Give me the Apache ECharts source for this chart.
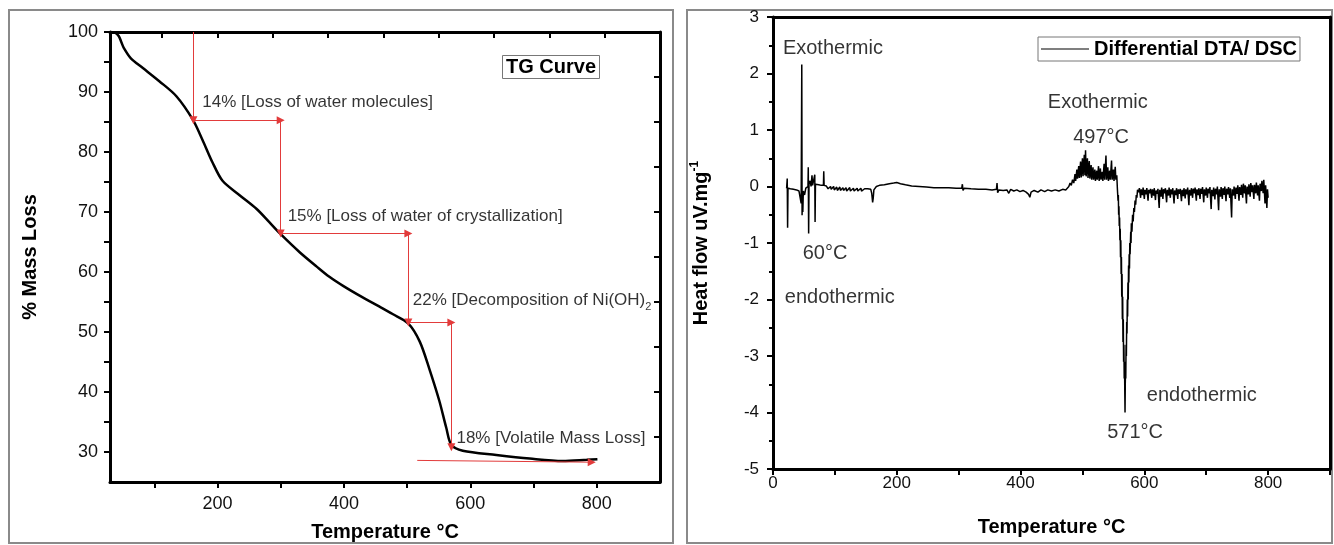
<!DOCTYPE html>
<html>
<head>
<meta charset="utf-8">
<script src="https://cdn.jsdelivr.net/npm/echarts@6.0.0/dist/echarts.min.js"></script>
<style>
html, body { margin: 0; padding: 0; background: #fff; }
#chart { width: 1334px; height: 545px; }
</style>
</head>
<body>
<div id="chart"></div>
<script>
// ---- TG curve (left) ----
var tgTemp = [30, 38, 44, 48, 52, 63, 82, 108, 135, 161, 176, 192, 208, 235, 262, 282, 300, 330, 357, 377, 400, 429, 455, 477, 502, 520, 535, 551, 562, 570, 588, 641, 694, 746, 784, 801];
var tgMass = [100, 99.9, 99.3, 98.3, 97.3, 95.6, 94, 91.8, 89.3, 85.4, 82.1, 78.3, 75.2, 72.8, 70.5, 68.3, 66.3, 63.3, 60.9, 59.2, 57.6, 55.8, 54.3, 53.0, 51.4, 48.4, 43.9, 38.5, 34, 31.2, 30.2, 29.5, 28.9, 28.5, 28.7, 28.8];

var tgLabelX = [200, 400, 600, 800];
var tgTickX = [100, 200, 300, 400, 500, 600, 700, 800];
var tgTopTickX = [112.5, 200, 287.5, 375, 462.5, 550, 637.5, 725, 812.5];
var tgLabelY = [30, 40, 50, 60, 70, 80, 90, 100];
var tgTickY = [30, 35, 40, 45, 50, 55, 60, 65, 70, 75, 80, 85, 90, 95, 100];
var tgRightTickY = [32.5, 40, 47.5, 55, 62.5, 70, 77.5, 85, 92.5];

// red arrows: [from, to] in data units, head at "to"
var tgArrows = [
    [[162, 100], [162, 85.3]],
    [[162, 85.3], [300, 85.3]],
    [[300, 85.3], [300, 66.4]],
    [[300, 66.4], [502, 66.4]],
    [[502, 66.4], [502, 51.6]],
    [[502, 51.6], [570, 51.6]],
    [[570, 51.6], [570, 30.8]],
    [[516, 28.6], [792, 28.3]]
];
var tgNotes = [
    ['14% [Loss of water molecules]', 176, 88.2],
    ['15% [Loss of water of crystallization]', 311, 69.2],
    ['22% [Decomposition of Ni(OH){sub|2}', 509, 55.2],
    ['18% [Volatile Mass Loss]', 578, 32.3]
];

// ---- DTA / DSC (right) ----
var dtaPoints = [
    [22, -0.03], [23, 0.14], [23.6, -0.73], [24.2, -0.03], [28, -0.04], [33, -0.05], [38, -0.06], [42, -0.08],
    [44, -0.1], [45.5, -0.3], [46.5, 2.16], [47, -0.51], [47.6, -0.12], [48.2, -0.45], [49, -0.08], [51, -0.15],
    [53, -0.03], [55, -0.06], [56.5, 0.0], [57, 0.34], [57.6, -0.83], [58.2, 0.05], [60, 0.1], [61.5, 0.0],
    [63, 0.2], [64, 0.02], [66, 0.05], [67.5, 0.21], [68, -0.63], [68.6, 0.04], [71, 0.06], [74, 0.03],
    [78, 0.02], [81.5, 0.02], [82, 0.27], [82.6, 0.02], [86, 0.01], [88, 0.01], [89, -0.04], [93, 0.0],
    [94, -0.05], [98, 0.0], [99, -0.06], [103, -0.01], [104, -0.07], [108, -0.01], [109, -0.07], [113, -0.02],
    [114, -0.07], [118, -0.02], [119, -0.08], [124, -0.02], [125, -0.08], [130, -0.03], [131, -0.08], [136, -0.03],
    [137, -0.08], [142, -0.03], [143, -0.08], [148, -0.04], [153, -0.04], [158, -0.05], [159.5, -0.12], [161, -0.28],
    [162, -0.2], [163, -0.06], [167, 0.0], [172, 0.02], [180, 0.03], [188, 0.05], [195, 0.06], [200, 0.07],
    [206, 0.05], [214, 0.03], [224, 0.01], [236, 0.0], [248, -0.01], [260, -0.02], [272, -0.02], [284, -0.02],
    [296, -0.03], [305, -0.03], [306, 0.04], [307, -0.07], [309, -0.03], [320, -0.04], [332, -0.05], [344, -0.05],
    [354, -0.06], [361, -0.05], [362, 0.06], [363, -0.11], [365, -0.06], [372, -0.07], [378, -0.06], [381, -0.12],
    [384, -0.05], [389, -0.08], [394, -0.06], [399, -0.09], [404, -0.07], [409, -0.1], [413, -0.14], [415, -0.19],
    [417, -0.1], [422, -0.07], [428, -0.1], [433, -0.06], [439, -0.09], [444, -0.06], [450, -0.08], [456, -0.06],
    [462, -0.08], [468, -0.05], [473, -0.06], [476, -0.03],
    // exothermic hump
    [478, 0.0], [480, 0.06], [482, 0.02], [484, 0.12], [486, 0.06], [488, 0.22], [489, 0.1], [491, 0.3],
    [492, 0.14], [494, 0.36], [495, 0.15], [497, 0.44], [498, 0.16], [500, 0.5], [501, 0.18], [503, 0.56],
    [504, 0.2], [505, 0.64], [506, 0.18], [508, 0.5], [509, 0.15], [511, 0.45], [512, 0.14], [514, 0.38],
    [515, 0.12], [517, 0.34], [518, 0.12], [520, 0.3], [521, 0.1], [523, 0.28], [524, 0.12], [526, 0.36],
    [527, 0.1], [529, 0.32], [530, 0.12], [532, 0.26], [533, 0.1], [535, 0.4], [536, 0.12], [538, 0.55],
    [539, 0.12], [541, 0.34], [542, 0.1], [544, 0.28], [545, 0.12], [547, 0.46], [548, 0.12], [550, 0.3],
    [551, 0.1], [553, 0.35], [554, 0.12], [555.5, 0.2],
    // endothermic trough (noisy both flanks)
    [556.5, -0.05], [557.5, -0.25], [558, -0.15], [558.5, -0.5], [559, -0.35], [559.5, -0.7], [560, -0.55], [560.5, -0.95],
    [561, -0.75], [561.5, -1.25], [562, -0.95], [562.5, -1.55], [563, -1.25], [563.5, -1.95], [564, -1.55], [564.5, -2.35],
    [565, -1.95], [565.5, -2.75], [566, -2.35], [566.5, -3.1], [567, -2.8], [567.5, -3.4], [568, -3.1], [568.4, -3.6],
    [568.8, -4.0], [569.2, -3.5], [569.6, -3.25], [570, -3.4], [570.5, -2.8], [571, -3.0], [571.5, -2.4], [572, -2.6],
    [572.5, -2.0], [573, -2.3], [573.5, -1.7], [574, -2.0], [574.5, -1.4], [575, -1.7], [575.5, -1.2], [576, -1.45],
    [576.5, -1.0], [577, -1.2], [578, -0.8], [578.5, -1.0], [579, -0.65], [580, -0.8], [581, -0.5], [582, -0.62],
    [583, -0.38], [584, -0.45], [585, -0.25], [586, -0.32], [587, -0.15], [588, -0.2], [589, -0.06],
    // noisy tail
    [591, -0.1], [592, -0.03], [594, -0.2], [595, -0.05], [597, -0.15], [598, -0.02], [600, -0.22], [601, -0.06],
    [603, -0.14], [604, -0.03], [606, -0.25], [607, -0.06], [609, -0.12], [610, -0.04], [612, -0.2], [613, -0.05],
    [615, -0.16], [616, -0.03], [618, -0.24], [619, -0.07], [621, -0.13], [622, -0.04], [624, -0.38], [625, -0.06],
    [627, -0.18], [628, -0.02], [630, -0.22], [631, -0.05], [633, -0.12], [634, -0.03], [636, -0.28], [637, -0.06],
    [639, -0.16], [640, -0.02], [642, -0.2], [643, -0.05], [645, -0.14], [646, -0.03], [648, -0.3], [649, -0.07],
    [651, -0.15], [652, -0.03], [654, -0.22], [655, -0.05], [657, -0.13], [658, -0.04], [660, -0.26], [661, -0.06],
    [663, -0.17], [664, -0.03], [666, -0.21], [667, -0.05], [669, -0.14], [670, -0.02], [672, -0.33], [673, -0.06],
    [675, -0.16], [676, -0.03], [678, -0.2], [679, -0.04], [681, -0.12], [682, -0.02], [684, -0.25], [685, -0.05],
    [687, -0.15], [688, -0.03], [690, -0.22], [691, -0.04], [693, -0.13], [694, -0.01], [696, -0.28], [697, -0.05],
    [699, -0.16], [700, -0.02], [702, -0.2], [703, -0.04], [705, -0.12], [706, -0.01], [708, -0.4], [709, -0.06],
    [711, -0.17], [712, -0.02], [714, -0.23], [715, -0.04], [717, -0.14], [718, 0.0], [720, -0.42], [721, -0.05],
    [723, -0.18], [724, -0.01], [726, -0.22], [727, -0.03], [729, -0.15], [730, 0.0], [732, -0.26], [733, -0.04],
    [735, -0.14], [736, -0.01], [738, -0.2], [739, -0.03], [741, -0.55], [742, -0.05], [744, -0.16], [745, 0.0],
    [747, -0.22], [748, -0.02], [750, -0.13], [751, 0.02], [753, -0.25], [754, -0.01], [756, -0.15], [757, 0.03],
    [759, -0.2], [760, 0.05], [762, -0.12], [763, 0.02], [765, -0.3], [766, 0.0], [768, -0.14], [769, 0.04],
    [771, -0.18], [772, 0.06], [774, -0.1], [775, 0.02], [777, -0.22], [778, 0.03], [780, -0.12], [781, 0.07],
    [783, -0.16], [784, 0.02], [786, -0.25], [787, 0.05], [789, -0.08], [790, 0.1], [792, -0.12], [793, 0.12],
    [795, -0.3], [796, 0.02], [798, -0.38], [799, -0.05], [800, -0.2]
];

var dtaLabelX = [0, 200, 400, 600, 800];
var dtaTickX = [0, 100, 200, 300, 400, 500, 600, 700, 800, 900];
var dtaNotes = [
    ['Exothermic', 16, 2.44],
    ['60°C', 48, -1.19],
    ['endothermic', 19, -1.96],
    ['Exothermic', 444, 1.49],
    ['497°C', 485, 0.87],
    ['endothermic', 604, -3.7],
    ['571°C', 540, -4.35]
];

var FONT = '"Liberation Sans", Arial, sans-serif';
var axisLine = {onZero: false, lineStyle: {color: '#000', width: 3}};
var tickStyle = {color: '#000', width: 2};
var titleStyle = {fontSize: 20, fontWeight: 'bold', color: '#000', fontFamily: FONT};

function noteSeries(notes, xi, yi, fontSize) {
    return {
        type: 'scatter',
        xAxisIndex: xi,
        yAxisIndex: yi,
        symbolSize: 0,
        silent: true,
        label: {
            show: true,
            position: 'right',
            distance: 0,
            formatter: '{b}',
            fontSize: fontSize,
            color: '#000',
            fontFamily: FONT,
            rich: {
                sub: {fontSize: 11, lineHeight: 24, verticalAlign: 'bottom', color: '#000', fontFamily: FONT}
            }
        },
        data: notes.map(function (n) {
            return {name: n[0], value: [n[1], n[2]]};
        })
    };
}

var myChart = echarts.init(document.getElementById('chart'));

var option = {
    animation: false,
    backgroundColor: '#fff',
    title: {
        text: 'TG Curve',
        left: 502,
        top: 55,
        padding: [2, 4],
        borderColor: '#777',
        borderWidth: 1,
        textStyle: {fontSize: 20, fontWeight: 'bold', color: '#000', fontFamily: FONT}
    },
    legend: {
        data: [{name: 'Differential DTA/ DSC', icon: 'rect'}],
        left: 1038,
        top: 37,
        padding: [2, 3],
        itemWidth: 48,
        itemHeight: 1,
        borderColor: '#777',
        borderWidth: 1,
        textStyle: {fontSize: 20, fontWeight: 'bold', color: '#000', fontFamily: FONT}
    },
    grid: [
        {left: 110, top: 32, width: 550, height: 450, outerBoundsMode: 'none'},
        {left: 773, top: 17, width: 557, height: 452, outerBoundsMode: 'none'}
    ],
    xAxis: [
        {
            gridIndex: 0, type: 'value', position: 'bottom', min: 30, max: 900,
            name: 'Temperature °C', nameLocation: 'middle', nameGap: 40, nameTextStyle: titleStyle,
            axisLine: axisLine,
            axisTick: {customValues: tgTickX, length: 6, lineStyle: tickStyle},
            axisLabel: {customValues: tgLabelX, margin: 13, fontSize: 18, color: '#111', fontFamily: FONT},
            splitLine: {show: false}
        },
        {
            gridIndex: 0, type: 'value', position: 'top', min: 30, max: 900,
            axisLine: axisLine,
            axisTick: {inside: true, customValues: tgTopTickX, length: 6, lineStyle: tickStyle},
            axisLabel: {show: false},
            splitLine: {show: false}
        },
        {
            gridIndex: 1, type: 'value', position: 'bottom', min: 0, max: 900,
            name: 'Temperature °C', nameLocation: 'middle', nameGap: 48, nameTextStyle: titleStyle,
            axisLine: axisLine,
            axisTick: {customValues: dtaTickX, length: 6, lineStyle: tickStyle},
            axisLabel: {customValues: dtaLabelX, margin: 6, fontSize: 17, color: '#111', fontFamily: FONT},
            splitLine: {show: false}
        },
        {
            gridIndex: 1, type: 'value', position: 'top', min: 0, max: 900,
            axisLine: axisLine,
            axisTick: {show: false},
            axisLabel: {show: false},
            splitLine: {show: false}
        }
    ],
    yAxis: [
        {
            gridIndex: 0, type: 'value', position: 'left', min: 25, max: 100,
            name: '% Mass Loss', nameLocation: 'middle', nameGap: 70, nameTextStyle: titleStyle,
            axisLine: axisLine,
            axisTick: {customValues: tgTickY, length: 6, lineStyle: tickStyle},
            axisLabel: {customValues: tgLabelY, margin: 12, fontSize: 18, color: '#111', fontFamily: FONT},
            splitLine: {show: false}
        },
        {
            gridIndex: 0, type: 'value', position: 'right', min: 25, max: 100,
            axisLine: axisLine,
            axisTick: {inside: true, customValues: tgRightTickY, length: 6, lineStyle: tickStyle},
            axisLabel: {show: false},
            splitLine: {show: false}
        },
        {
            gridIndex: 1, type: 'value', position: 'left', min: -5, max: 3, interval: 1,
            name: 'Heat flow uV.mg{sup|-1}', nameLocation: 'middle', nameGap: 60,
            nameTextStyle: Object.assign({
                rich: {sup: {fontSize: 12, fontWeight: 'bold', lineHeight: 24, verticalAlign: 'top', color: '#000', fontFamily: FONT}}
            }, titleStyle),
            axisLine: axisLine,
            axisTick: {length: 6, lineStyle: tickStyle},
            minorTick: {show: true, splitNumber: 2, length: 4, lineStyle: tickStyle},
            axisLabel: {margin: 14, fontSize: 17, color: '#111', fontFamily: FONT},
            splitLine: {show: false}
        },
        {
            gridIndex: 1, type: 'value', position: 'right', min: -5, max: 3,
            axisLine: axisLine,
            axisTick: {show: false},
            axisLabel: {show: false},
            splitLine: {show: false}
        }
    ],
    graphic: [
        {type: 'rect', shape: {x: 9, y: 10, width: 664, height: 533}, style: {fill: 'none', stroke: '#8a8a8a', lineWidth: 2}, silent: true},
        {type: 'rect', shape: {x: 687, y: 10, width: 645, height: 533}, style: {fill: 'none', stroke: '#8a8a8a', lineWidth: 2}, silent: true}
    ],
    series: [
        {
            name: 'TG Curve',
            type: 'line',
            xAxisIndex: 0,
            yAxisIndex: 0,
            symbol: 'none',
            smooth: 0.3,
            lineStyle: {color: '#000', width: 2.5},
            data: tgTemp.map(function (t, i) { return [t, tgMass[i]]; }),
            markLine: {
                silent: true,
                symbol: ['none', 'triangle'],
                symbolSize: 8,
                label: {show: false},
                lineStyle: {color: '#e23b3b', width: 1, type: 'solid'},
                itemStyle: {color: '#e01818'},
                emphasis: {disabled: true},
                data: tgArrows.map(function (a) {
                    return [{coord: a[0]}, {coord: a[1]}];
                })
            }
        },
        noteSeries(tgNotes, 0, 0, 17),
        {
            name: 'Differential DTA/ DSC',
            type: 'line',
            xAxisIndex: 2,
            yAxisIndex: 2,
            symbol: 'none',
            lineStyle: {color: '#000', width: 1.5},
            itemStyle: {color: '#000'},
            data: dtaPoints
        },
        noteSeries(dtaNotes, 2, 2, 20)
    ]
};

myChart.setOption(option);
</script>
</body>
</html>
